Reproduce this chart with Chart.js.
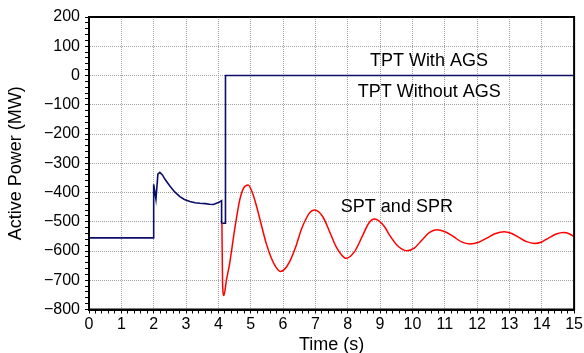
<!DOCTYPE html>
<html>
<head>
<meta charset="utf-8">
<script src="https://cdn.jsdelivr.net/npm/chart.js@4"></script>
<style>
  html, body { margin: 0; padding: 0; background: #fff; }
  #wrap { width: 584px; height: 353px; }
</style>
</head>
<body>
<div id="wrap"><canvas id="chart"></canvas></div>
<script>
// TPT (navy) trace
const tptTime  = [0, 2.0, 2.0, 2.07, 2.13, 2.19, 2.27, 2.35, 2.5, 2.65, 2.81, 2.95, 3.12, 3.28, 3.43, 3.6, 3.73, 3.85, 3.94, 4.03, 4.1, 4.1, 4.22, 4.22, 15];
const tptPower = [-555, -555, -372, -423, -337, -331, -340, -355, -378, -398, -414, -424, -431, -435, -437, -438, -440, -441, -437, -433, -428, -505, -505, 0, 0];

// SPT and SPR (red) trace
const sptTime  = [4.11, 4.13, 4.17, 4.25, 4.35, 4.51, 4.66, 4.78, 4.92, 5.05, 5.17, 5.33, 5.48, 5.64, 5.78, 5.92,
                  6.05, 6.2, 6.41, 6.56, 6.72, 6.85, 6.98, 7.23, 7.44, 7.64, 7.8, 7.95, 8.21, 8.47, 8.65, 8.83,
                  9.14, 9.29, 9.55, 9.83, 10.06, 10.29, 10.52, 10.75, 11.01, 11.27, 11.52, 11.78, 12.05, 12.31,
                  12.57, 12.84, 13.07, 13.3, 13.53, 13.77, 14.0, 14.22, 14.45, 14.67, 14.85, 15];
const sptPower = [-505, -710, -752, -699, -642, -522, -426, -385, -374, -400, -443, -511, -574, -625, -655, -670,
                  -662, -637, -580, -528, -488, -466, -460, -483, -534, -585, -612, -625, -602, -545, -505, -491,
                  -517, -545, -583, -599, -590, -563, -537, -527, -534, -551, -569, -576, -570, -555,
                  -540, -534, -540, -554, -568, -574, -569, -555, -542, -537, -541, -551];

const noteTexts = ['TPT With AGS', 'TPT Without AGS', 'SPT and SPR'];
const noteTime  = [10.51, 10.52, 9.52];
const notePower = [51, -55, -448];

const FONT = "'Liberation Sans', Arial, sans-serif";
Chart.defaults.font.family = FONT;
Chart.defaults.color = '#000';

const toPoints = (xs, ys) => xs.map((x, i) => ({ x: x, y: ys[i] }));
const minus = v => v < 0 ? '\u2212' + (-v) : String(v);

const frame = {
    id: 'frame',
    afterDatasetsDraw(chart) {
        const { ctx, chartArea: a, scales } = chart;
        ctx.save();
        ctx.strokeStyle = '#000';
        ctx.lineWidth = 2;
        ctx.strokeRect(a.left, a.top, a.right - a.left, a.bottom - a.top);
        ctx.fillStyle = '#000';
        ctx.font = '18px ' + FONT;
        ctx.textAlign = 'center';
        ctx.textBaseline = 'middle';
        noteTexts.forEach((t, i) => {
            ctx.fillText(t, scales.x.getPixelForValue(noteTime[i]), scales.y.getPixelForValue(notePower[i]));
        });
        ctx.restore();
    }
};

new Chart(document.getElementById('chart'), {
    type: 'line',
    data: {
        datasets: [
            {
                label: 'SPT and SPR',
                data: toPoints(sptTime, sptPower),
                borderColor: '#ff0000',
                borderWidth: 1.5,
                pointRadius: 0,
                cubicInterpolationMode: 'monotone'
            },
            {
                label: 'TPT',
                data: toPoints(tptTime, tptPower),
                borderColor: '#0c0c6a',
                borderWidth: 1.6,
                pointRadius: 0,
                tension: 0
            }
        ]
    },
    options: {
        responsive: true,
        maintainAspectRatio: false,
        animation: false,
        layout: { padding: { left: 0, right: 9, top: 17, bottom: 0 } },
        plugins: { legend: { display: false }, tooltip: { enabled: false } },
        scales: {
            x: {
                type: 'linear',
                min: 0,
                max: 15,
                afterFit: s => { s.height = 43.5; },
                ticks: {
                    stepSize: 0.2,
                    autoSkip: false,
                    maxRotation: 0,
                    padding: 1,
                    font: { size: 16 },
                    callback: v => Number.isInteger(v) ? String(v) : ''
                },
                grid: {
                    color: c => c.tick && Number.isInteger(c.tick.value) ? '#a0a0a0' : 'rgba(0,0,0,0)',
                    tickColor: '#000',
                    tickLength: 4
                },
                border: { color: '#000', width: 2, dash: [1, 1] },
                title: { display: true, text: 'Time (s)', font: { size: 18 }, padding: { top: 0, bottom: -3 } }
            },
            y: {
                min: -800,
                max: 200,
                afterFit: s => { s.width = 89; },
                ticks: {
                    stepSize: 20,
                    autoSkip: false,
                    padding: 5,
                    font: { size: 16 },
                    callback: v => v % 100 === 0 ? minus(v) : ''
                },
                grid: {
                    color: c => c.tick && c.tick.value % 100 === 0 ? '#a0a0a0' : 'rgba(0,0,0,0)',
                    tickColor: '#000',
                    tickLength: 4
                },
                border: { color: '#000', width: 2, dash: [1, 1] },
                title: { display: true, text: 'Active Power (MW)', font: { size: 18 }, padding: { top: 5, bottom: 0 } }
            }
        }
    },
    plugins: [frame]
});
</script>
</body>
</html>
